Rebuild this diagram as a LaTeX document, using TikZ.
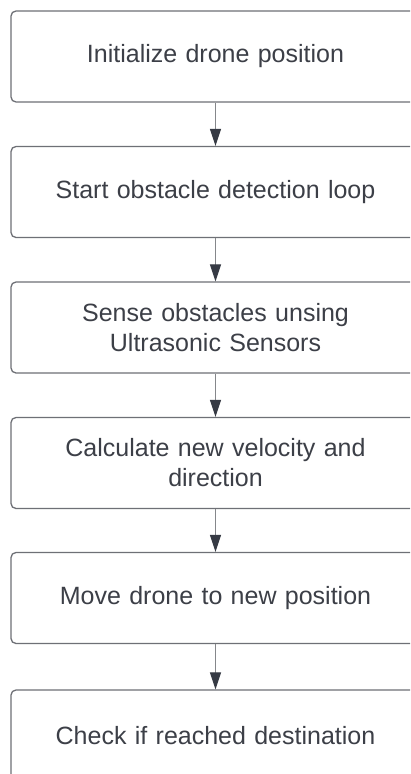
\documentclass[tikz,border=0pt]{standalone}
\usepackage{fontspec}
\setmainfont{Liberation Sans}
\usetikzlibrary{arrows.meta}
\definecolor{boxc}{HTML}{6E7076}
\definecolor{txt}{HTML}{3C3F47}
\definecolor{linec}{HTML}{85878B}
\definecolor{headc}{HTML}{363A44}
\begin{document}
\begin{tikzpicture}[x=1pt,y=-1pt,
  box/.style={draw=boxc, line width=1.3pt, rounded corners=5pt, minimum width=409pt,
    minimum height=91pt, text width=380pt, align=center,
    font=\fontsize{25}{30}\selectfont, text=txt, inner sep=0pt},
  arr/.style={draw=linec, line width=1.2pt, -{Triangle[length=17pt,width=11pt,color=headc]}}]
\useasboundingbox (0,0) rectangle (410,774);
\clip (0,0) rectangle (410,774);
\fill[white] (0,0) rectangle (410,774);
\node[box] (b1) at (215.5,56.5) {Initialize drone position};
\node[box] (b2) at (215.5,192) {Start obstacle detection loop};
\node[box] (b3) at (215.5,327.5) {Sense obstacles unsing\\Ultrasonic Sensors};
\node[box] (b4) at (215.5,463) {Calculate new velocity and\\direction};
\node[box] (b5) at (215.5,598) {Move drone to new position};
\node[box] (b6) at (215.5,735.5) {Check if reached destination};
\draw[arr] (b1.south) -- (b2.north);
\draw[arr] (b2.south) -- (b3.north);
\draw[arr] (b3.south) -- (b4.north);
\draw[arr] (b4.south) -- (b5.north);
\draw[arr] (b5.south) -- (b6.north);
\end{tikzpicture}
\end{document}
